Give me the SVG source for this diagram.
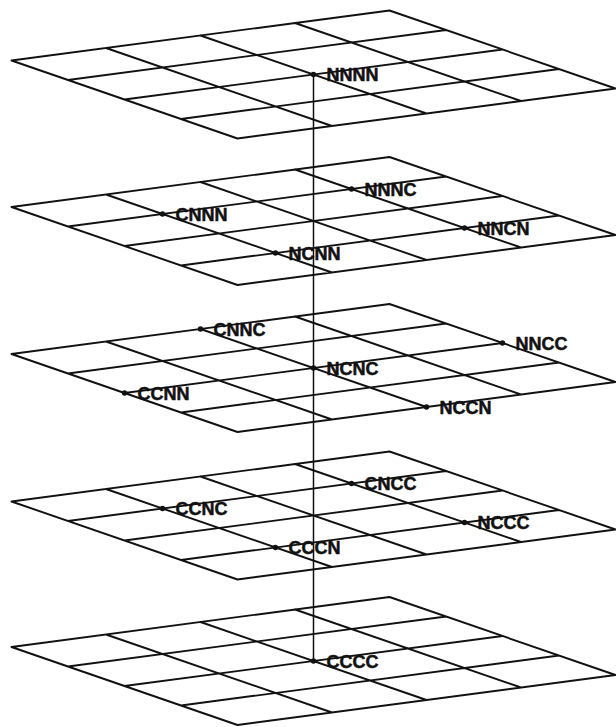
<svg xmlns="http://www.w3.org/2000/svg" xmlns:xlink="http://www.w3.org/1999/xlink" width="616" height="727" viewBox="0 0 616 727">
<style>
.grid{fill:none;stroke:#111;stroke-width:1.9;stroke-linecap:round;stroke-linejoin:round}
.conn{stroke:#111;stroke-width:1.5;fill:none}
.dot{fill:#111}
.lbl{font-family:"Liberation Sans",Arial,sans-serif;font-weight:bold;font-size:18px;fill:#111;stroke:#111;stroke-width:0.5}
</style>
<defs>
<g id="plane">
<path class="grid" d="M-302,-14L76,-64M-245.5,5.5L132.5,-44.5M-189,25L189,-25M-132.5,44.5L245.5,-5.5M-76,64L302,14M-302,-14L-76,64M-207.5,-26.5L18.5,51.5M-113,-39L113,39M-18.5,-51.5L207.5,26.5M76,-64L302,14"/>
</g>
</defs>
<rect width="616" height="727" fill="#fff"/>
<g id="plane1"><use xlink:href="#plane" href="#plane" transform="translate(313.5,74.5)"/></g>
<g id="plane2"><use xlink:href="#plane" href="#plane" transform="translate(313.5,221)"/></g>
<g id="plane3"><use xlink:href="#plane" href="#plane" transform="translate(313.5,368)"/></g>
<g id="plane4"><use xlink:href="#plane" href="#plane" transform="translate(313.5,515.5)"/></g>
<g id="plane5"><use xlink:href="#plane" href="#plane" transform="translate(313.5,661)"/></g>
<g id="connectors">
<line class="conn" x1="313.5" y1="74.5" x2="313.5" y2="661"/>
</g>
<g id="NNNN"><circle class="dot" cx="313.5" cy="74.5" r="2.7"/><text class="lbl" x="326.5" y="81">NNNN</text></g>
<g id="NNNC"><circle class="dot" cx="351.5" cy="189" r="2.7"/><text class="lbl" x="364.5" y="195.5">NNNC</text></g>
<g id="CNNN"><circle class="dot" cx="162.5" cy="214" r="2.7"/><text class="lbl" x="175.5" y="220.5">CNNN</text></g>
<g id="NNCN"><circle class="dot" cx="464.5" cy="228" r="2.7"/><text class="lbl" x="477.5" y="234.5">NNCN</text></g>
<g id="NCNN"><circle class="dot" cx="275.5" cy="253" r="2.7"/><text class="lbl" x="288.5" y="259.5">NCNN</text></g>
<g id="CNNC"><circle class="dot" cx="200.5" cy="329" r="2.7"/><text class="lbl" x="213.5" y="335.5">CNNC</text></g>
<g id="NNCC"><circle class="dot" cx="502.5" cy="343" r="2.7"/><text class="lbl" x="515.5" y="349.5">NNCC</text></g>
<g id="NCNC"><circle class="dot" cx="313.5" cy="368" r="2.7"/><text class="lbl" x="326.5" y="374.5">NCNC</text></g>
<g id="CCNN"><circle class="dot" cx="124.5" cy="393" r="2.7"/><text class="lbl" x="137.5" y="399.5">CCNN</text></g>
<g id="NCCN"><circle class="dot" cx="426.5" cy="407" r="2.7"/><text class="lbl" x="439.5" y="413.5">NCCN</text></g>
<g id="CNCC"><circle class="dot" cx="351.5" cy="483.5" r="2.7"/><text class="lbl" x="364.5" y="490">CNCC</text></g>
<g id="CCNC"><circle class="dot" cx="162.5" cy="508.5" r="2.7"/><text class="lbl" x="175.5" y="515">CCNC</text></g>
<g id="NCCC"><circle class="dot" cx="464.5" cy="522.5" r="2.7"/><text class="lbl" x="477.5" y="529">NCCC</text></g>
<g id="CCCN"><circle class="dot" cx="275.5" cy="547.5" r="2.7"/><text class="lbl" x="288.5" y="554">CCCN</text></g>
<g id="CCCC"><circle class="dot" cx="313.5" cy="661" r="2.7"/><text class="lbl" x="326.5" y="667.5">CCCC</text></g>
</svg>
